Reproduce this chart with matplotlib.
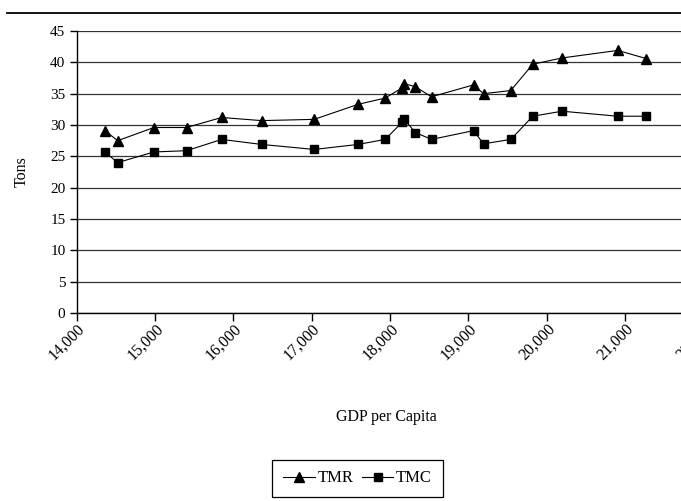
import matplotlib
matplotlib.use("Agg")
import matplotlib.pyplot as plt
from matplotlib.lines import Line2D
from matplotlib.ticker import FuncFormatter
from matplotlib.transforms import ScaledTranslation

plt.rcParams['font.family'] = ['Liberation Serif', 'DejaVu Serif']

gdp = [14362, 14524, 14987, 15404, 15851, 16361, 17032, 17593, 17938, 18151,
       18182, 18323, 18529, 19065, 19193, 19541, 19821, 20195, 20906, 21269]
tmr = [29.1, 27.5, 29.6, 29.6, 31.2, 30.7, 30.9, 33.3, 34.3, 35.9,
       36.6, 36.1, 34.5, 36.4, 35.0, 35.5, 39.7, 40.7, 41.9, 40.6]
tmc = [25.7, 24.0, 25.7, 25.9, 27.7, 26.9, 26.1, 26.9, 27.7, 30.4,
       30.9, 28.8, 27.7, 29.1, 27.0, 27.7, 31.4, 32.2, 31.4, 31.4]
x_ticks = list(range(14000, 23000, 1000))
y_ticks = list(range(0, 50, 5))

W, H = 681, 501
fig = plt.figure(figsize=(W / 100, H / 100), dpi=100)
# plot area runs past the right edge, so the last label gets cut
ax = fig.add_axes([76.6 / W, (H - 313) / H, (703.5 - 76.6) / W, (313 - 31) / H])

ax.plot(gdp, tmr, color='black', lw=0.8, marker='^', ms=7.5, label='TMR')
ax.plot(gdp, tmc, color='black', lw=0.8, marker='s', ms=6, label='TMC')

ax.set_xlim(14000, 22000)
ax.set_ylim(0, 45)
ax.set_xticks(x_ticks)
ax.set_yticks(y_ticks)
ax.xaxis.set_major_formatter(FuncFormatter(lambda v, p: f"{int(v):,}"))
ax.yaxis.grid(True, color='#333333', lw=0.9)
ax.set_axisbelow(True)

for s in ['top', 'right']:
    ax.spines[s].set_visible(False)
for s in ['left', 'bottom']:
    ax.spines[s].set_linewidth(1.0)
    ax.spines[s].set_color('black')

ax.tick_params(axis='y', direction='out', length=5, width=1, labelsize=11, pad=3)
ax.tick_params(axis='x', direction='out', length=6, width=1, labelsize=11.5, pad=1)
shift = ScaledTranslation(6 / 100, -4 / 100, fig.dpi_scale_trans)
for lab in ax.get_xticklabels():
    lab.set_rotation(45)
    lab.set_ha('right')
    lab.set_va('center')
    lab.set_rotation_mode('anchor')
    lab.set_transform(lab.get_transform() + shift)

fig.text(22 / W, 1 - 172 / H, 'Tons', rotation=90, ha='center', va='center', fontsize=11.5)
fig.text(386 / W, 1 - 417 / H, 'GDP per Capita', ha='center', va='center', fontsize=11.5)

# chart frame top line
fig.add_artist(Line2D([7 / W, 1], [1 - 12.7 / H] * 2, color='black', lw=1.3,
                      transform=fig.transFigure))

leg = fig.legend(loc='center', bbox_to_anchor=(357.5 / W, 1 - 478.5 / H), ncol=2,
                 fancybox=False, framealpha=1, edgecolor='black', fontsize=12,
                 handlelength=1.9, handletextpad=0.15, columnspacing=0.5,
                 borderpad=0.65, borderaxespad=0)
leg.get_frame().set_linewidth(0.9)

fig.savefig('out.png', dpi=100)
